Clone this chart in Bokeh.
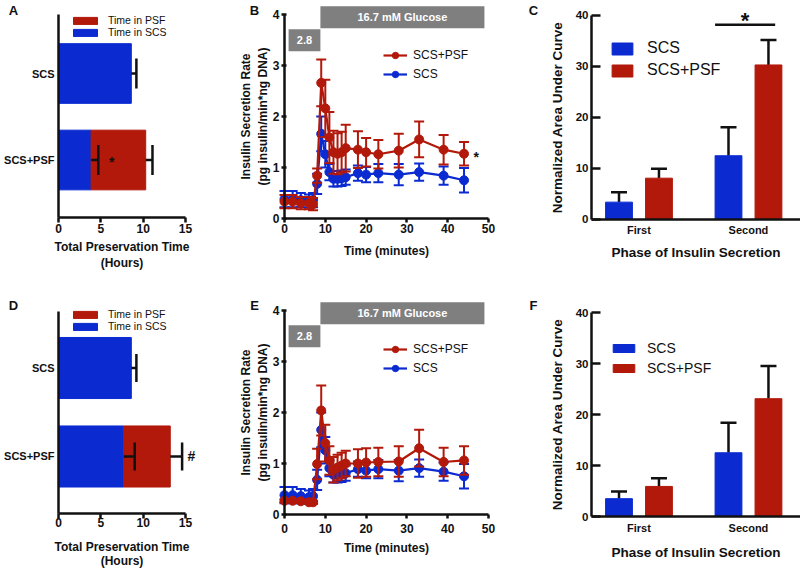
from bokeh.plotting import figure
from bokeh.models import (ColumnDataSource, Whisker, TeeHead, Legend, LegendItem,
                          Label, FixedTicker, BoxAnnotation, Range1d)
from bokeh.layouts import column, row
from bokeh.embed import file_html
from bokeh.resources import INLINE

RED = "#B2190A"
BLUE = "#0B2BD1"
BOX_GREY = "#7F7F7F"
INK = "#111111"
FONT = "Liberation Sans"

# ---------------- Panels A / D : total preservation time (hours)
bar_groups = ["SCS+PSF", "SCS"]          # bottom row, top row
hour_ticks = [0, 5, 10, 15]
A_scs_hours = [3.85, 8.6]
A_scs_sem = [0.85, 0.6]
A_psf_hours = [6.45, 0.0]
A_total_sem = [0.8, 0.0]

D_scs_hours = [7.7, 8.6]
D_scs_sem = [1.3, 0.6]
D_psf_hours = [5.5, 0.0]
D_total_sem = [1.4, 0.0]

# ---------------- Panels B / E : insulin secretion rate
time_ticks = [0, 10, 20, 30, 40, 50]
rate_ticks = [0, 1, 2, 3, 4]
time_min = [0, 2, 4, 6, 7, 8, 9, 10, 11, 12, 13, 14, 15, 18, 20, 23, 28, 33, 39, 44]
scs_rate = [0.38, 0.38, 0.36, 0.34, 0.36, 0.68, 1.66, 1.26, 0.91, 0.78, 0.78, 0.79,
            0.81, 0.89, 0.86, 0.89, 0.86, 0.91, 0.84, 0.75]
scs_sem = [0.16, 0.16, 0.14, 0.13, 0.14, 0.2, 0.34, 0.26, 0.16, 0.15, 0.15, 0.15,
           0.15, 0.15, 0.15, 0.18, 0.21, 0.17, 0.18, 0.24]
B_psf_rate = [0.33, 0.33, 0.3, 0.3, 0.28, 0.84, 2.66, 2.16, 1.59, 1.3, 1.27, 1.3,
              1.38, 1.35, 1.3, 1.26, 1.33, 1.55, 1.35, 1.27]
B_psf_sem = [0.13, 0.13, 0.12, 0.12, 0.12, 0.14, 0.46, 0.56, 0.5, 0.42, 0.4, 0.4,
             0.46, 0.36, 0.28, 0.28, 0.33, 0.35, 0.29, 0.23]
E_psf_rate = [0.27, 0.27, 0.26, 0.24, 0.24, 0.99, 2.04, 1.4, 1.06, 0.88, 0.92, 0.96,
              1.0, 1.0, 1.02, 1.03, 1.04, 1.3, 1.03, 1.06]
E_psf_sem = [0.03, 0.03, 0.03, 0.03, 0.03, 0.3, 0.49, 0.36, 0.28, 0.25, 0.25, 0.25,
             0.25, 0.28, 0.28, 0.28, 0.3, 0.36, 0.28, 0.28]

# ---------------- Panels C / F : normalized AUC
phases = ["First", "Second"]
auc_ticks = [0, 10, 20, 30, 40]
C_scs_auc = [3.4, 12.5]
C_scs_sem = [1.95, 5.6]
C_psf_auc = [8.1, 30.3]
C_psf_sem = [1.85, 4.9]
F_scs_auc = [3.5, 12.5]
F_scs_sem = [1.4, 5.9]
F_psf_auc = [5.9, 23.1]
F_psf_sem = [1.6, 6.4]


def make_fig(w, h, xr, yr, x_axis_at, x_bounds, y_axis_at, y_bounds):
    p = figure(width=w, height=h, x_range=Range1d(*xr), y_range=Range1d(*yr),
               min_border=0, min_border_left=0, min_border_right=0,
               min_border_top=0, min_border_bottom=0,
               output_backend="svg", toolbar_location=None, tools="")
    p.grid.visible = False
    p.outline_line_color = None
    p.background_fill_color = "white"
    p.border_fill_color = "white"
    p.xaxis.fixed_location = x_axis_at
    p.xaxis.bounds = x_bounds
    p.yaxis.fixed_location = y_axis_at
    p.yaxis.bounds = y_bounds
    for ax in (p.xaxis[0], p.yaxis[0]):
        ax.axis_line_width = 2.5
        ax.axis_line_color = INK
        ax.major_tick_line_width = 2.5
        ax.major_tick_line_color = INK
        ax.minor_tick_line_color = None
        ax.major_label_text_font = FONT
        ax.major_label_text_font_style = "bold"
        ax.major_label_text_color = INK
        ax.axis_label_text_font = FONT
        ax.axis_label_text_font_style = "bold"
        ax.axis_label_text_color = INK
    return p


def panel_letter(p, text, sx, sy):
    p.add_layout(Label(x=sx, y=sy, x_units="screen", y_units="screen", text=text,
                       text_font=FONT, text_font_style="bold", text_font_size="13px",
                       text_align="center", text_baseline="middle", text_color=INK))


def add_legend(p, items, loc, size, gw, gh, standoff, spacing):
    lg = Legend(items=items, location=loc, orientation="vertical",
                glyph_width=gw, glyph_height=gh, label_text_font=FONT,
                label_text_font_size=size, label_text_color=INK,
                label_standoff=standoff, spacing=spacing, padding=0, margin=0,
                border_line_color=None, background_fill_alpha=0, label_height=gh)
    p.add_layout(lg)


def preservation_panel(scs_h, scs_sem, psf_h, total_sem, h, yr, axis_y0, axis_y1,
                       letter, letter_sy, mark, mark_x, legend_loc, cap, title_lh,
                       tick_standoff, title_standoff):
    p = make_fig(205, h, (-6.850, 17.362), yr, axis_y0, (0, 15), 0, (axis_y0, axis_y1))
    ypos = list(range(len(bar_groups)))
    totals = [a + b for a, b in zip(scs_h, psf_h)]
    idx = [i for i, v in enumerate(psf_h) if v > 0]
    blue = p.hbar(y=ypos, left=0, right=scs_h, height=0.69,
                  fill_color=BLUE, line_color=BLUE, line_width=1)
    red = p.hbar(y=[ypos[i] for i in idx], left=[scs_h[i] for i in idx],
                 right=[totals[i] for i in idx], height=0.69,
                 fill_color=RED, line_color=RED, line_width=1)
    w1 = ColumnDataSource(dict(base=ypos, lower=scs_h,
                               upper=[a + e for a, e in zip(scs_h, scs_sem)]))
    w2 = ColumnDataSource(dict(base=[ypos[i] for i in idx], lower=[totals[i] for i in idx],
                               upper=[totals[i] + total_sem[i] for i in idx]))
    for src in (w1, w2):
        p.add_layout(Whisker(source=src, base="base", lower="lower", upper="upper",
                             dimension="width", line_color=INK, line_width=2.5,
                             level="annotation",
                             upper_head=TeeHead(size=cap, line_color=INK, line_width=2.5),
                             lower_head=None))
    p.add_layout(Label(x=mark_x, y=ypos[0], text=mark, text_font=FONT,
                       text_font_style="bold", text_font_size="14px", text_align="center",
                       text_baseline="middle", text_color=INK,
                       y_offset=-2 if mark == "*" else 0))
    p.yaxis.ticker = FixedTicker(ticks=ypos)
    p.yaxis.major_label_overrides = {i: g for i, g in zip(ypos, bar_groups)}
    p.yaxis.major_tick_out = 0
    p.yaxis.major_tick_in = 0
    p.yaxis.major_label_text_font_size = "11px"
    p.yaxis.major_label_standoff = 4
    p.xaxis.ticker = FixedTicker(ticks=hour_ticks)
    p.xaxis.major_tick_out = 5
    p.xaxis.major_tick_in = 0
    p.xaxis.major_label_text_font_size = "12px"
    p.xaxis.major_label_standoff = tick_standoff
    p.xaxis.axis_label = "Total Preservation Time\n(Hours)"
    p.xaxis.axis_label_text_font_size = "12px"
    p.xaxis.axis_label_text_line_height = title_lh
    p.xaxis.axis_label_standoff = title_standoff
    add_legend(p, [LegendItem(label="Time in PSF", renderers=[red]),
                   LegendItem(label="Time in SCS", renderers=[blue])],
               legend_loc, "10.5px", 30, 9, 8, 0)
    panel_letter(p, letter, 13, letter_sy)
    return p


def series(p, rate, sem, color):
    src = ColumnDataSource(dict(t=time_min, v=rate,
                                lo=[v - e for v, e in zip(rate, sem)],
                                hi=[v + e for v, e in zip(rate, sem)]))
    p.segment(x0="t", y0="lo", x1="t", y1="hi", source=src, line_color=color, line_width=2)
    p.scatter(x="t", y="hi", source=src, marker="dash", size=10, line_color=color, line_width=2)
    p.scatter(x="t", y="lo", source=src, marker="dash", size=10, line_color=color, line_width=2)
    ln = p.line(x="t", y="v", source=src, line_color=color, line_width=2.2)
    dots = p.scatter(x="t", y="v", source=src, size=9, fill_color=color, line_color=color)
    return ln, dots


def secretion_panel(psf_rate, psf_sem, h, yr, letter, letter_sy, star, legend_loc,
                    tick_standoff, title_standoff):
    p = make_fig(315, h, (-19.363, 57.843), yr, 0, (0, 50), 0, (0, 4))
    p.add_layout(BoxAnnotation(left=1, right=8.8, bottom=3.28, top=3.71,
                               fill_color=BOX_GREY, fill_alpha=1, line_color=None))
    p.add_layout(BoxAnnotation(left=8.8, right=49, bottom=3.73, top=4.16,
                               fill_color=BOX_GREY, fill_alpha=1, line_color=None))
    for tx, ty, txt in ((4.9, 3.495, "2.8"), (28.9, 3.945, "16.7 mM Glucose")):
        p.add_layout(Label(x=tx, y=ty, text=txt, text_font=FONT, text_font_style="bold",
                           text_font_size="11px", text_color="white",
                           text_align="center", text_baseline="middle"))
    bl, bd = series(p, scs_rate, scs_sem, BLUE)
    rl, rd = series(p, psf_rate, psf_sem, RED)
    if star:
        p.add_layout(Label(x=time_min[-1] + 3, y=psf_rate[-1], text="*", text_font=FONT,
                           text_font_style="bold", text_font_size="14px",
                           text_align="center", text_baseline="middle", text_color=INK,
                           y_offset=-3))
    p.yaxis.ticker = FixedTicker(ticks=rate_ticks)
    p.yaxis.major_tick_out = 3
    p.yaxis.major_tick_in = 2
    p.yaxis.major_label_standoff = 2
    p.yaxis.major_label_text_font_size = "12px"
    p.yaxis.axis_label = "Insulin Secretion Rate\n(pg insulin/min*ng DNA)"
    p.yaxis.axis_label_text_font_size = "12px"
    p.yaxis.axis_label_standoff = 0
    p.xaxis.ticker = FixedTicker(ticks=time_ticks)
    p.xaxis.major_tick_out = 4
    p.xaxis.major_tick_in = 0
    p.xaxis.major_label_standoff = tick_standoff
    p.xaxis.major_label_text_font_size = "12px"
    p.xaxis.axis_label = "Time (minutes)"
    p.xaxis.axis_label_text_font_size = "12px"
    p.xaxis.axis_label_standoff = title_standoff
    add_legend(p, [LegendItem(label="SCS+PSF", renderers=[rl, rd]),
                   LegendItem(label="SCS", renderers=[bl, bd])],
               legend_loc, "12px", 24, 16, 6, 3)
    panel_letter(p, letter, 49, letter_sy)
    return p


def auc_panel(scs, scs_e, psf, psf_e, h, yr, letter, letter_sy,
              leg_size, gw, gh, leg_loc, leg_standoff, leg_spacing, sig,
              tick_standoff, title_standoff):
    p = make_fig(280, h, (-1.164, 3.950), yr, 0, (0.1324, 3.95), 0.1324, (0, 40))
    group_x = [1, 3]
    off, bw = 0.365, 0.49
    xs_scs = [g - off for g in group_x]
    xs_psf = [g + off for g in group_x]
    b = p.vbar(x=xs_scs, top=scs, width=bw, fill_color=BLUE, line_color=BLUE, line_width=1)
    r = p.vbar(x=xs_psf, top=psf, width=bw, fill_color=RED, line_color=RED, line_width=1)
    for xs, vals, errs in ((xs_scs, scs, scs_e), (xs_psf, psf, psf_e)):
        src = ColumnDataSource(dict(base=xs, lower=vals,
                                    upper=[v + e for v, e in zip(vals, errs)]))
        p.add_layout(Whisker(source=src, base="base", lower="lower", upper="upper",
                             dimension="height", line_color=INK, line_width=2.5,
                             upper_head=TeeHead(size=16, line_color=INK, line_width=2.5),
                             lower_head=None))
    if sig:
        x0 = group_x[1] - off - bw / 2
        x1 = group_x[1] + off + bw / 4
        p.segment(x0=[x0], y0=[38.2], x1=[x1], y1=[38.2], line_color=INK, line_width=2.5)
        p.add_layout(Label(x=(x0 + x1) / 2, y=39.0, text="*", text_font=FONT,
                           text_font_style="bold", text_font_size="22px",
                           text_align="center", text_baseline="alphabetic", text_color=INK))
    p.yaxis.ticker = FixedTicker(ticks=auc_ticks)
    p.yaxis.major_tick_out = 0
    p.yaxis.major_tick_in = 9
    p.yaxis.major_label_standoff = 3
    p.yaxis.major_label_text_font_size = "11.5px"
    p.yaxis.axis_label = "Normalized Area Under Curve"
    p.yaxis.axis_label_text_font_size = "13.5px"
    p.yaxis.axis_label_standoff = 8
    p.xaxis.ticker = FixedTicker(ticks=group_x)
    p.xaxis.major_label_overrides = {g: ph for g, ph in zip(group_x, phases)}
    p.xaxis.major_tick_out = 0
    p.xaxis.major_tick_in = 0
    p.xaxis.major_label_standoff = tick_standoff
    p.xaxis.major_label_text_font_size = "11px"
    p.xaxis.axis_label = "Phase of Insulin Secretion"
    p.xaxis.axis_label_text_font_size = "13.5px"
    p.xaxis.axis_label_standoff = title_standoff
    add_legend(p, [LegendItem(label="SCS", renderers=[b]),
                   LegendItem(label="SCS+PSF", renderers=[r])],
               leg_loc, leg_size, gw, gh, leg_standoff, leg_spacing)
    panel_letter(p, letter, 13, letter_sy)
    return p


pA = preservation_panel(A_scs_hours, A_scs_sem, A_psf_hours, A_total_sem, 296,
                        (-1.578, 1.844), -0.665, 1.684, "A", 286, "*", 6.3,
                        (70, 258), 30, 1.2, 1, 4)
pB = secretion_panel(B_psf_rate, B_psf_sem, 296, (-1.529, 4.275), "B", 286, True,
                     (178, 214), 1, 8)
pC = auc_panel(C_scs_auc, C_scs_sem, C_psf_auc, C_psf_sem, 296, (-15.10, 42.94), "C", 286,
               "16px", 26, 15, (89, 217), 12, 4, True, 5, 5)
pD = preservation_panel(D_scs_hours, D_scs_sem, D_psf_hours, D_total_sem, 273,
                        (-1.277, 1.808), -0.644, 1.638, "D", 264, "#", 15.7,
                        (70, 237), 28, 1.0, 0, 9)
pE = secretion_panel(E_psf_rate, E_psf_sem, 273, (-1.078, 4.275), "E", 264, False,
                     (178, 193), 5, 5)
pF = auc_panel(F_scs_auc, F_scs_sem, F_psf_auc, F_psf_sem, 273, (-10.39, 43.14), "F", 264,
               "14px", 27, 10, (90, 193), 10, 4, False, 5, 8)

layout = column(row(pA, pB, pC), row(pD, pE, pF))
open("out.html", "w").write(file_html(layout, INLINE))
